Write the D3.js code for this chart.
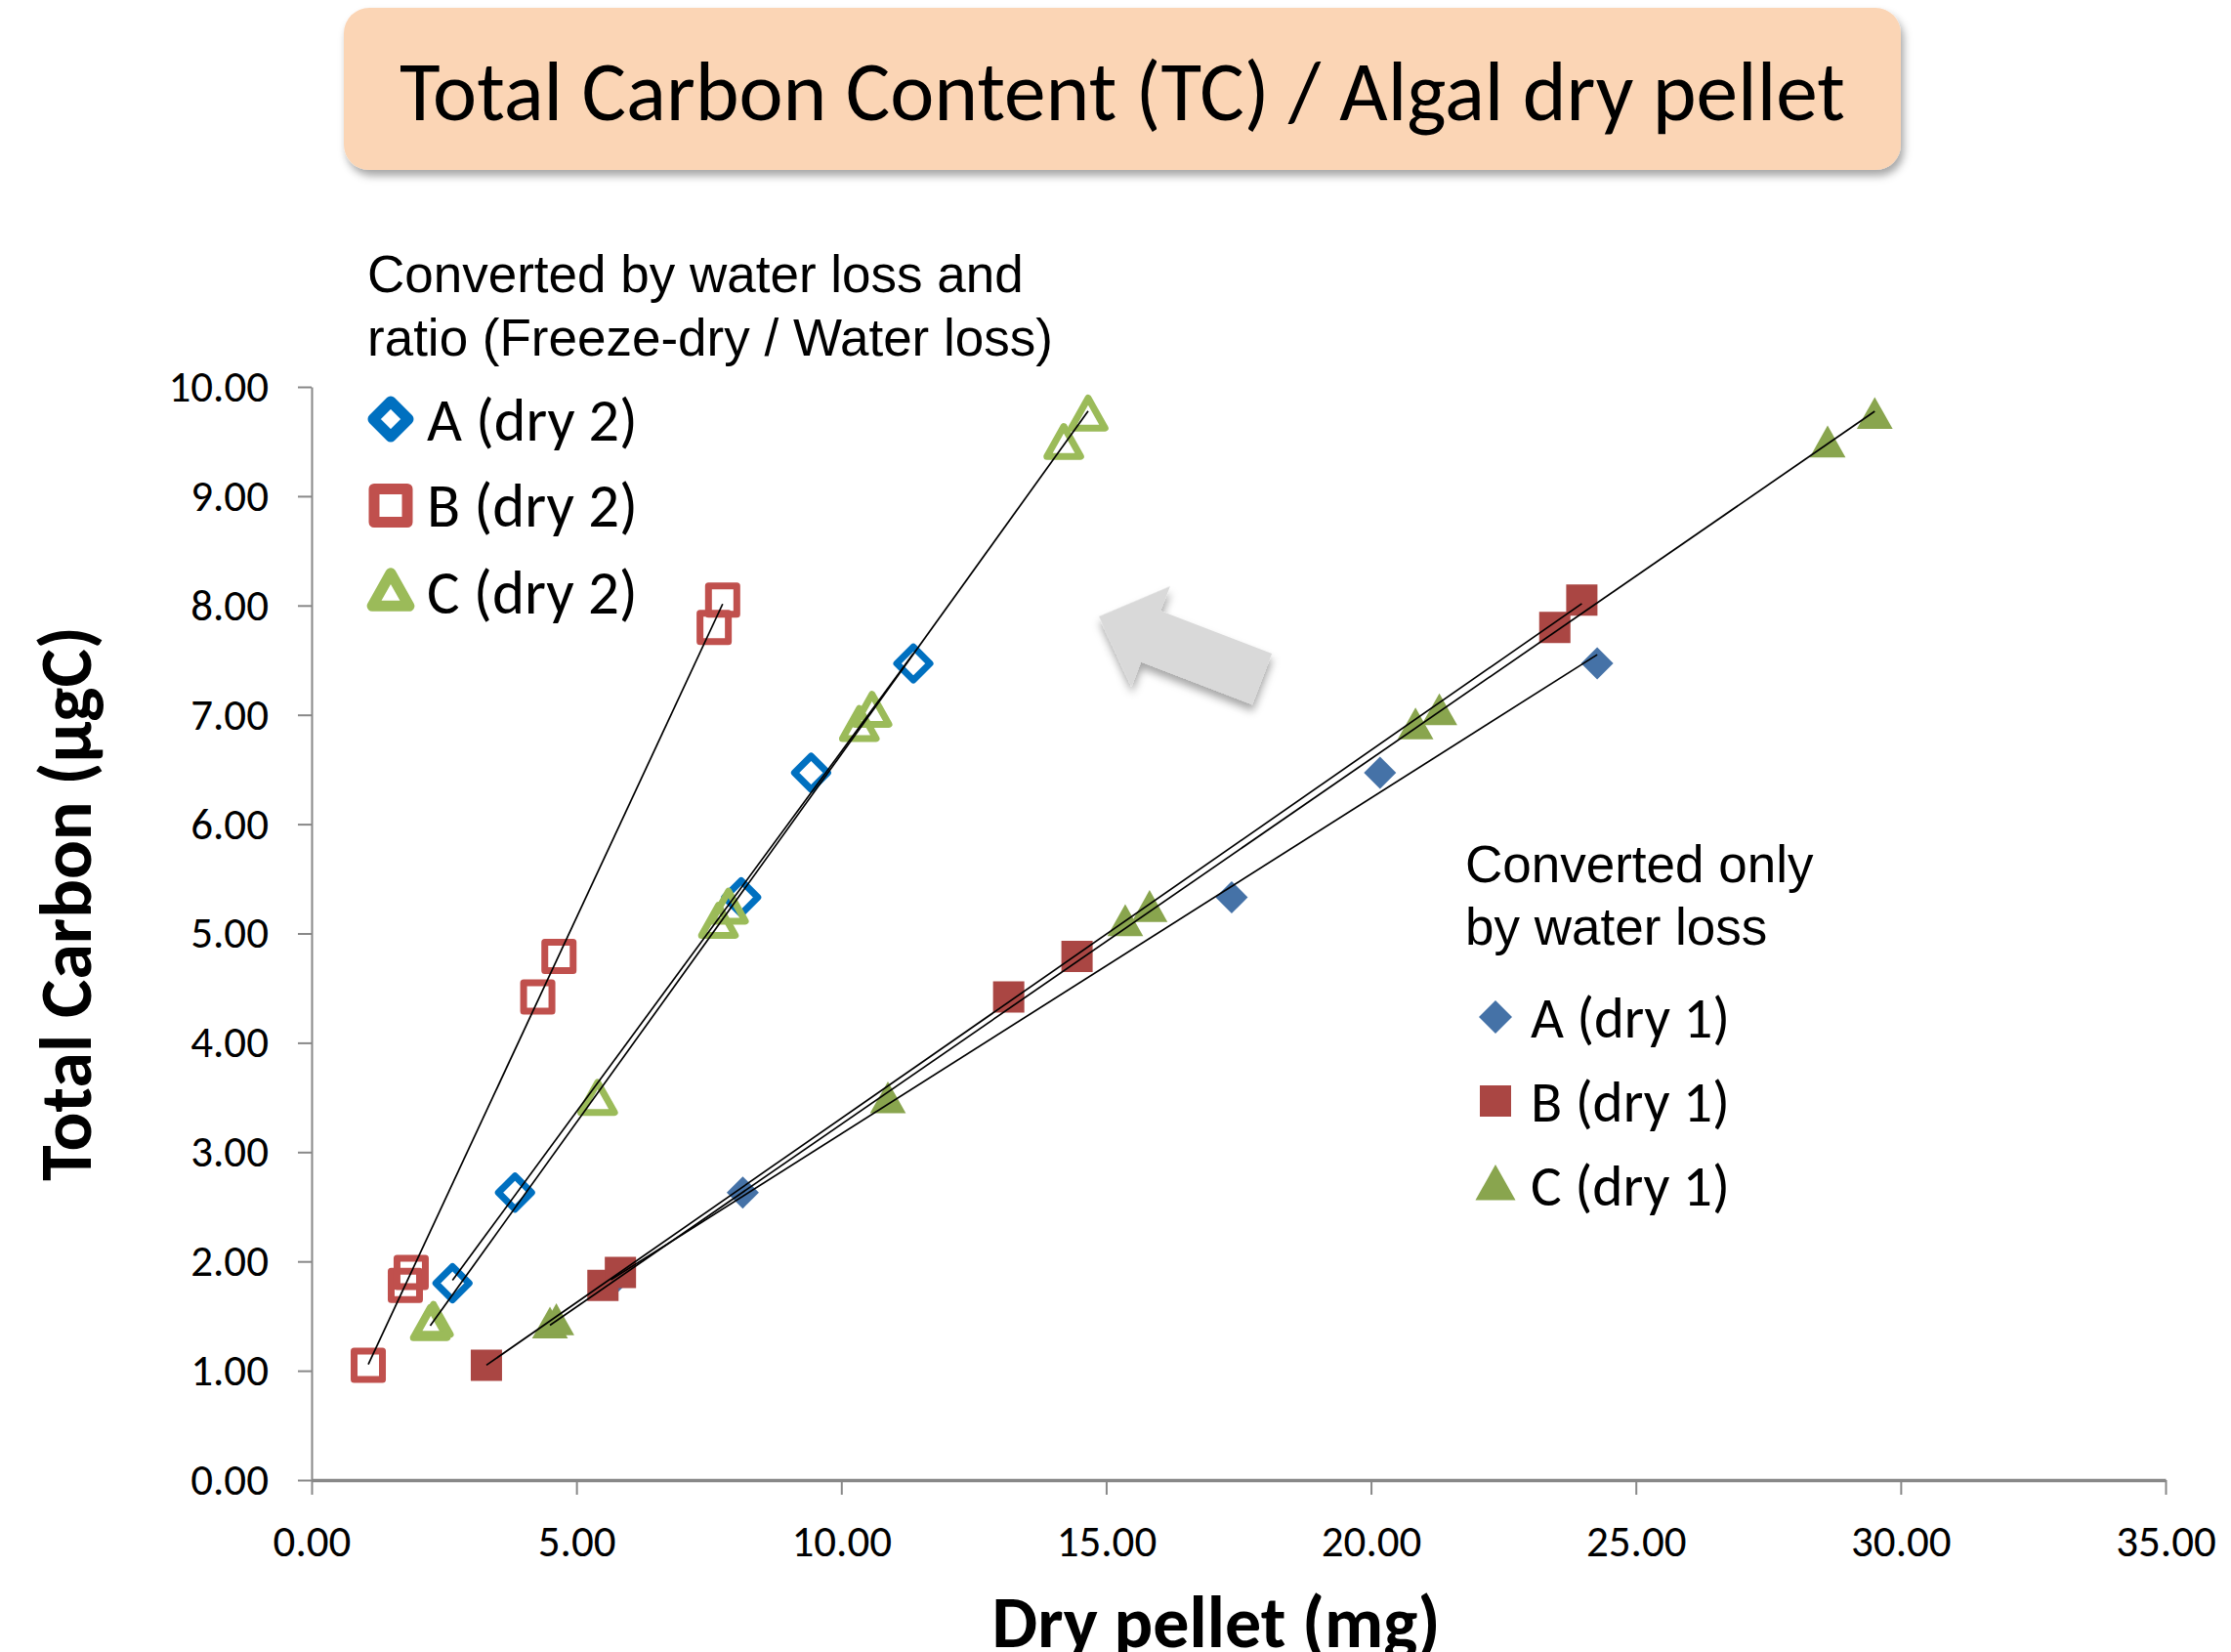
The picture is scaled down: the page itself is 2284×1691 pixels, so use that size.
<html>
<head>
<meta charset="utf-8">
<style>
  body { margin: 0; background: #fff; }
  svg { display: block; }
</style>
<script src="https://d3js.org/d3.v7.min.js"></script>
<script>
// total carbon (µgC) of each sample, shared by both conversions
const tcA = [1.80, 2.63, 5.33, 6.47, 7.47];
const tcB = [1.05, 1.78, 1.90, 4.42, 4.79, 7.80, 8.05];
const tcC = [1.42, 1.45, 3.48, 5.10, 5.23, 6.90, 7.03, 9.48, 9.74];

// dry pellet (mg), converted only by water loss
const dry1A = [5.65, 8.14, 17.37, 20.17, 24.27];
const dry1B = [3.30, 5.50, 5.83, 13.16, 14.45, 23.47, 23.98];
const dry1C = [4.50, 4.62, 10.88, 15.36, 15.82, 20.84, 21.29, 28.62, 29.51];

// dry pellet (mg), converted by water loss and freeze-dry ratio
const dry2A = [2.66, 3.84, 8.11, 9.43, 11.36];
const dry2B = [1.07, 1.77, 1.88, 4.27, 4.67, 7.60, 7.76];
const dry2C = [2.24, 2.30, 5.40, 7.68, 7.87, 10.34, 10.58, 14.20, 14.66];

const xTicks = [0, 5, 10, 15, 20, 25, 30, 35];
const yTicks = [0, 1, 2, 3, 4, 5, 6, 7, 8, 9, 10];
const dry2Labels = ["A (dry 2)", "B (dry 2)", "C (dry 2)"];
const dry1Labels = ["A (dry 1)", "B (dry 1)", "C (dry 1)"];

document.addEventListener('DOMContentLoaded', function(){
    const w = 2284, h = 1691;
    const svg = d3.select("body").append("svg")
        .attr("width", w)
        .attr("height", h);

    const defs = svg.append("defs");
    const shadow = defs.append("filter").attr("id", "shadow")
        .attr("x", "-10%").attr("y", "-20%").attr("width", "120%").attr("height", "150%");
    shadow.append("feDropShadow")
        .attr("dx", 3).attr("dy", 6).attr("stdDeviation", 4)
        .attr("flood-color", "#000").attr("flood-opacity", 0.35);

    const calibri = "Carlito, Lato, 'Open Sans', sans-serif";
    const arial = "'Liberation Sans', Arial, sans-serif";

    // scale font size so a text gets a given width
    function fitWidth(sel, target) {
        sel.each(function(){
            const len = this.getComputedTextLength();
            const fs = parseFloat(d3.select(this).attr("font-size"));
            d3.select(this).attr("font-size", fs * target / len);
        });
    }

    // title box
    svg.append("rect")
        .attr("x", 352).attr("y", 8)
        .attr("width", 1594).attr("height", 166)
        .attr("rx", 26)
        .attr("fill", "#fbd5b5")
        .attr("filter", "url(#shadow)");
    svg.append("text")
        .attr("x", 1149).attr("y", 123)
        .attr("text-anchor", "middle")
        .attr("font-family", calibri)
        .attr("font-size", 80)
        .text("Total Carbon Content (TC) / Algal dry pellet")
        .call(fitWidth, 1480);

    const x = d3.scaleLinear().domain([0, 35]).range([319, 2217]);
    const y = d3.scaleLinear().domain([0, 10]).range([1515, 396]);

    const yAxis = d3.axisLeft(y)
        .tickValues(yTicks)
        .tickFormat(d3.format(".2f"))
        .tickSize(14)
        .tickSizeOuter(0)
        .tickPadding(30);
    const xAxis = d3.axisBottom(x)
        .tickValues(xTicks)
        .tickFormat(d3.format(".2f"))
        .tickSize(15)
        .tickSizeOuter(0)
        .tickPadding(31);

    const gy = svg.append("g")
        .attr("transform", "translate(" + x(0) + ",0)")
        .call(yAxis);
    const gx = svg.append("g")
        .attr("transform", "translate(0," + y(0) + ")")
        .call(xAxis);
    [gx, gy].forEach(g => {
        g.selectAll("path, line").attr("stroke", "#888");
        g.selectAll("text")
            .attr("font-family", calibri)
            .attr("font-size", 45)
            .attr("fill", "#000");
    });
    gy.select("path").attr("stroke-width", 2);
    gy.selectAll("line").attr("stroke-width", 2);
    gx.select("path").attr("stroke-width", 3.5);
    gx.selectAll("line").attr("stroke-width", 2);

    // axis titles
    svg.append("text")
        .attr("x", 1245).attr("y", 1686)
        .attr("text-anchor", "middle")
        .attr("font-family", calibri)
        .attr("font-weight", "bold")
        .attr("font-size", 70)
        .text("Dry pellet (mg)")
        .call(fitWidth, 459);
    svg.append("text")
        .attr("transform", "translate(93,925) rotate(-90)")
        .attr("text-anchor", "middle")
        .attr("font-family", calibri)
        .attr("font-weight", "bold")
        .attr("font-size", 70)
        .text("Total Carbon (µgC)")
        .call(fitWidth, 568);

    // grey arrow pointing from dry 1 to dry 2
    const arrow = [[0, 0], [57, -55], [57, -28], [179, -28], [179, 28], [57, 28], [57, 55]];
    svg.append("path")
        .attr("d", d3.line()(arrow) + "Z")
        .attr("transform", "translate(1125,631) rotate(21)")
        .attr("fill", "#d9d9d9")
        .attr("filter", "url(#shadow)");

    function markerPath(shape, s) {
        if (shape === "diamond") return `M0,${-s}L${s},0L0,${s}L${-s},0Z`;
        if (shape === "square") return `M${-s},${-s}H${s}V${s}H${-s}Z`;
        return `M0,${-s * 1.1}L${s * 1.08},${s * 0.82}L${-s * 1.08},${s * 0.82}Z`;
    }

    const series = [
        {xs: dry1A, ys: tcA, shape: "diamond", filled: true, color: "#4572a7", size: 16.5},
        {xs: dry1B, ys: tcB, shape: "square", filled: true, color: "#aa4643", size: 16},
        {xs: dry1C, ys: tcC, shape: "triangle", filled: true, color: "#89a54e", size: 17},
        {xs: dry2A, ys: tcA, shape: "diamond", filled: false, color: "#0070c0", size: 17},
        {xs: dry2B, ys: tcB, shape: "square", filled: false, color: "#c0504d", size: 14.5},
        {xs: dry2C, ys: tcC, shape: "triangle", filled: false, color: "#9bbb59", size: 16}
    ];

    function drawMarker(g, s, px, py, size, sw) {
        g.append("path")
            .attr("d", markerPath(s.shape, size))
            .attr("transform", "translate(" + px + "," + py + ")")
            .attr("fill", s.filled ? s.color : "none")
            .attr("stroke", s.filled ? "none" : s.color)
            .attr("stroke-width", s.filled ? 0 : sw)
            .attr("stroke-linejoin", "round");
    }

    const marks = svg.append("g");
    series.forEach(s => {
        const pts = s.xs.map((v, i) => [v, s.ys[i]]);
        marks.selectAll(null)
            .data(pts)
            .enter()
            .append("path")
            .attr("d", markerPath(s.shape, s.size))
            .attr("transform", d => "translate(" + x(d[0]) + "," + y(d[1]) + ")")
            .attr("fill", s.filled ? s.color : "none")
            .attr("stroke", s.filled ? "none" : s.color)
            .attr("stroke-width", s.filled ? 0 : 7)
            .attr("stroke-linejoin", "round");
    });

    // linear trendlines over each series' range
    const trend = svg.append("g");
    series.forEach(s => {
        const mx = d3.mean(s.xs), my = d3.mean(s.ys);
        const slope = d3.sum(s.xs, (v, i) => (v - mx) * (s.ys[i] - my)) / d3.sum(s.xs, v => (v - mx) * (v - mx));
        const b = my - slope * mx;
        const ends = d3.extent(s.xs).map(v => [x(v), y(slope * v + b)]);
        trend.append("path")
            .attr("d", d3.line()(ends))
            .attr("stroke", "#000")
            .attr("stroke-width", 1.7)
            .attr("fill", "none");
    });

    // legend: dry 2
    const leg2 = svg.append("g");
    leg2.append("text")
        .attr("x", 376).attr("y", 299)
        .attr("font-family", arial).attr("font-size", 53)
        .text("Converted by water loss and");
    leg2.append("text")
        .attr("x", 376).attr("y", 364)
        .attr("font-family", arial).attr("font-size", 53)
        .text("ratio (Freeze-dry / Water loss)");
    const leg2Size = [18, 17, 17.5];
    dry2Labels.forEach((label, i) => {
        const cy = 429 + i * 88.5;
        drawMarker(leg2, series[3 + i], 400, cy, leg2Size[i], 11);
        leg2.append("text")
            .attr("x", 437).attr("y", cy)
            .attr("dy", "0.35em")
            .attr("font-family", calibri).attr("font-size", 58)
            .text(label)
            .call(fitWidth, 216);
    });

    // legend: dry 1
    const leg1 = svg.append("g");
    leg1.append("text")
        .attr("x", 1500).attr("y", 903)
        .attr("font-family", arial).attr("font-size", 53)
        .text("Converted only");
    leg1.append("text")
        .attr("x", 1500).attr("y", 967)
        .attr("font-family", arial).attr("font-size", 53)
        .text("by water loss");
    const leg1Size = [17, 16, 19];
    dry1Labels.forEach((label, i) => {
        const cy = 1041 + i * 86;
        drawMarker(leg1, series[i], 1531, cy, leg1Size[i], 0);
        leg1.append("text")
            .attr("x", 1567).attr("y", cy)
            .attr("dy", "0.35em")
            .attr("font-family", calibri).attr("font-size", 56)
            .text(label)
            .call(fitWidth, 204);
    });
});
</script>
</head>
<body>
</body>
</html>
